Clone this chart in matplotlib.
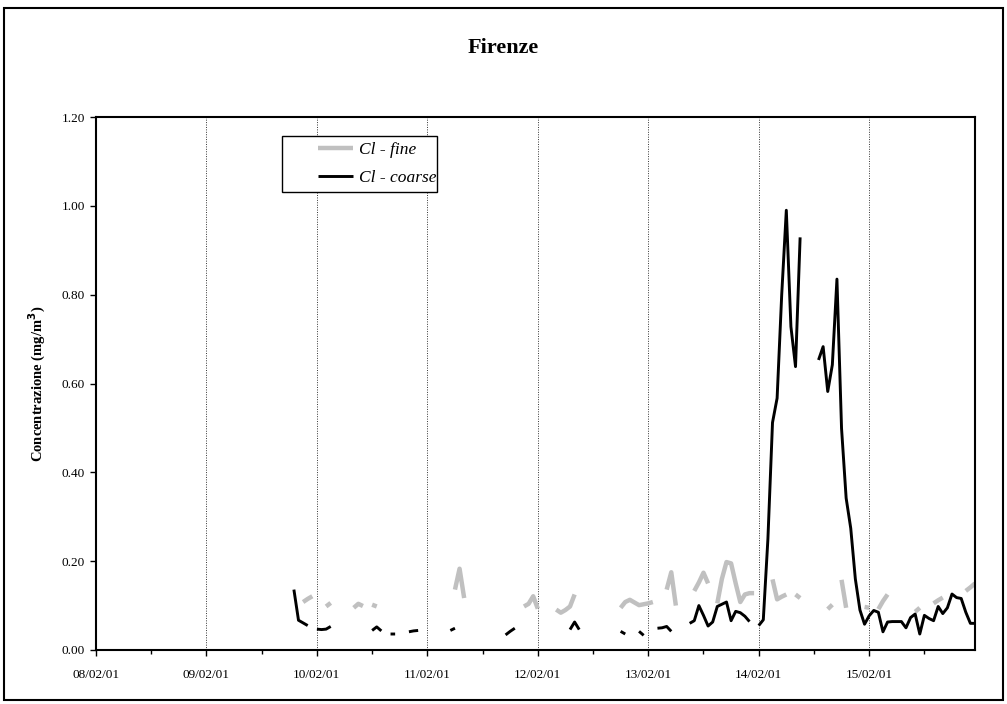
import numpy as np
import pandas as pd
import matplotlib
matplotlib.use("Agg")
import matplotlib.pyplot as plt
import matplotlib.dates as mdates
from matplotlib.patches import Rectangle

plt.rcParams['font.family'] = ['Liberation Serif', 'DejaVu Serif']

# hourly data, first value is 09/02/01 18:00 (None = missing)
start = "2001-02-09 18:00"

cl_coarse = [
    None, 0.136, 0.067, 0.061, 0.055, None,
    # 10/02
    0.047, 0.046, 0.047, 0.053, None, None, None, None, None, None, None, None,
    0.044, 0.052, 0.043, None, 0.036, 0.036, None, None, 0.041, 0.043, 0.044, None,
    # 11/02
    None, None, None, None, None, 0.044, 0.049, None, None, None, None, None,
    None, None, None, None, None, 0.034, 0.042, 0.049, None, None, None, None,
    # 12/02
    None, None, None, None, None, None, None, 0.046, 0.063, 0.046, None, None,
    None, None, None, None, None, None, 0.042, 0.036, None, None, 0.042, 0.033,
    # 13/02
    None, None, 0.049, 0.050, 0.053, 0.042, None, None, None, 0.060, 0.066, 0.100,
    0.078, 0.054, 0.063, 0.098, 0.103, 0.108, 0.066, 0.087, 0.084, 0.076, 0.064, None,
    # 14/02
    0.055, 0.068, 0.250, 0.512, 0.567, 0.800, 0.990, 0.728, 0.638, 0.929, None, None,
    None, 0.653, 0.683, 0.582, 0.642, 0.835, 0.499, 0.342, 0.274, 0.160, 0.090, 0.058,
    # 15/02
    0.077, 0.089, 0.085, 0.041, 0.063, 0.064, 0.064, 0.064, 0.050, 0.073, 0.081, 0.036,
    0.078, 0.071, 0.066, 0.098, 0.082, 0.095, 0.126, 0.118, 0.116, 0.085, 0.060, 0.060,
]

cl_fine = [
    None, None, None, 0.108, 0.115, 0.121,
    # 10/02
    None, None, 0.098, 0.106, None, None, None, None, 0.095, 0.104, 0.099, None,
    0.102, 0.098, None, None, None, None, None, None, None, None, None, None,
    # 11/02
    None, None, None, None, None, None, 0.136, 0.183, 0.117, None, None, None,
    None, None, None, None, None, None, None, None, None, 0.098, 0.104, 0.121,
    # 12/02
    0.093, None, None, None, 0.091, 0.084, 0.090, 0.098, 0.125, None, None, None,
    None, None, None, None, None, None, 0.095, 0.108, 0.113, 0.107, 0.101, 0.103,
    # 13/02
    0.105, 0.108, None, None, 0.136, 0.175, 0.100, None, None, None, 0.133, 0.152,
    0.174, 0.150, None, 0.105, 0.160, 0.198, 0.195, 0.150, 0.108, 0.125, 0.128, 0.128,
    # 14/02
    None, None, None, 0.159, 0.114, 0.120, 0.125, None, 0.125, 0.117, None, None,
    None, None, None, 0.092, 0.102, None, 0.158, 0.095, None, None, None, 0.097,
    # 15/02
    0.095, None, 0.092, 0.110, 0.125, None, None, None, None, None, 0.086, 0.095,
    None, None, 0.105, 0.112, 0.118, None, None, None, None, 0.133, 0.141, 0.150,
]

coarse = np.array(cl_coarse, dtype=float)
fine = np.array(cl_fine, dtype=float)
times = pd.date_range(start, periods=len(coarse), freq="h")

W, H = 1007, 704
fig = plt.figure(figsize=(W / 100, H / 100), dpi=100)
ax = fig.add_axes([96 / W, 1 - 650 / H, (975 - 96) / W, (650 - 117) / H])

ax.plot(times, fine, color="#c0c0c0", lw=3.2, solid_capstyle="butt", label="Cl - fine")
ax.plot(times, coarse, color="black", lw=2.1, solid_capstyle="butt", label="Cl - coarse")

ax.set_xlim(pd.Timestamp("2001-02-08 00:00"), pd.Timestamp("2001-02-15 23:00"))
ax.set_ylim(0, 1.2)
ax.set_yticks(np.arange(0, 1.21, 0.2))
ax.yaxis.set_major_formatter(plt.FormatStrFormatter("%.2f"))

ax.xaxis.set_major_locator(mdates.DayLocator())
ax.xaxis.set_minor_locator(mdates.HourLocator(byhour=12))
ax.xaxis.set_major_formatter(mdates.DateFormatter("%d/%m/%y"))
ax.grid(axis="x", which="major", color="#333333", ls=(0, (1, 1.5)), lw=0.7)

ax.tick_params(axis="both", which="major", direction="out", length=4, width=1, labelsize=9.5)
ax.tick_params(axis="x", which="major", pad=10)
ax.tick_params(axis="y", which="major", pad=4)
ax.tick_params(axis="x", which="minor", direction="out", length=3, width=1)
for s in ax.spines.values():
    s.set_linewidth(1.5)

ax.set_ylabel("Concentrazione (mg/m$^\\mathbf{3}$)", fontsize=10.5, fontweight="bold", labelpad=10)
fig.text(0.5, 1 - 48 / H, "Firenze", ha="center", va="center", fontsize=16, fontweight="bold")

# legend box drawn separately so the handle sits away from the left edge
ax.add_patch(Rectangle((282 / W, 1 - 192 / H), 155 / W, 56 / H, transform=fig.transFigure,
                       facecolor="white", edgecolor="black", lw=1.0, zorder=4, clip_on=False))
leg = ax.legend(loc="upper left", bbox_to_anchor=(318 / W, 1 - 142 / H),
                bbox_transform=fig.transFigure, frameon=False,
                prop={"style": "italic", "size": 12.5}, handlelength=2.0,
                handletextpad=0.35, borderpad=0, labelspacing=0.7, borderaxespad=0)
leg.set_zorder(5)

fig.patches.append(Rectangle((4 / W, 4 / H), 999 / W, 692 / H, transform=fig.transFigure,
                             fill=False, edgecolor="black", lw=1.5))

fig.savefig("out.png", dpi=100)
